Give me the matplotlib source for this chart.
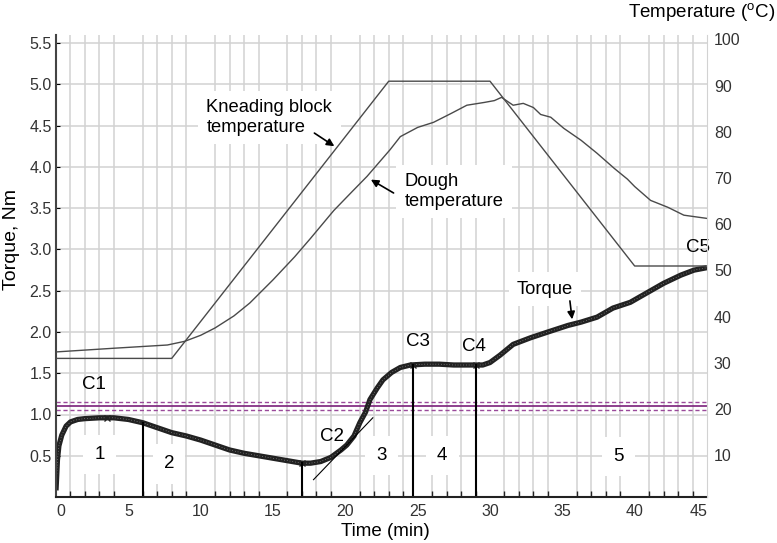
import numpy as np
import matplotlib.pyplot as plt
from matplotlib.transforms import ScaledTranslation

plt.rcParams['font.family'] = ['Liberation Sans', 'DejaVu Sans']
plt.rcParams['mathtext.fontset'] = 'custom'
plt.rcParams['mathtext.rm'] = 'Liberation Sans'

# Torque curve (Nm) vs time (min)
t_torque = [0.0, 0.1, 0.2, 0.4, 0.7, 1.0, 1.5, 2.0, 3.0, 4.0, 5.0, 6.0, 7.0, 8.0,
            9.0, 10.0, 11.0, 12.0, 13.0, 14.0, 15.0, 16.0, 17.0, 17.6, 18.3, 19.0,
            19.7, 20.1, 20.6, 21.0, 21.4, 21.7, 22.2, 22.6, 23.2, 23.8, 24.5, 25.5,
            26.5, 27.5, 28.5, 29.0, 29.5, 30.0, 30.7, 31.6, 32.8, 34.0, 35.4, 36.3,
            37.4, 38.5, 39.7, 40.9, 42.0, 43.2, 44.1, 45.0]
torque = [0.08, 0.45, 0.62, 0.75, 0.86, 0.91, 0.94, 0.95, 0.96, 0.96, 0.94, 0.90, 0.84, 0.78,
          0.74, 0.69, 0.63, 0.57, 0.53, 0.50, 0.47, 0.44, 0.41, 0.41, 0.43, 0.48,
          0.57, 0.63, 0.74, 0.90, 1.03, 1.18, 1.32, 1.42, 1.51, 1.57, 1.60, 1.61,
          1.61, 1.60, 1.60, 1.60, 1.60, 1.63, 1.72, 1.85, 1.93, 2.00, 2.08, 2.12,
          2.18, 2.29, 2.36, 2.48, 2.59, 2.69, 2.75, 2.78]

# Kneading block temperature (set program)
t_block = [0, 8, 23, 30, 40, 45]
block_temp = [30, 30, 90, 90, 50, 50]

# Dough temperature
t_dough = [0.0, 4.0, 7.7, 8.9, 10.0, 11.0, 12.3, 13.4, 15.0, 16.5, 17.6, 19.2, 20.5,
           21.5, 23.1, 23.8, 25.0, 26.1, 27.3, 28.4, 29.6, 30.3, 30.8, 31.6, 32.3,
           33.0, 33.5, 34.2, 35.1, 36.3, 37.4, 38.6, 39.5, 40.0, 41.1, 42.3, 43.4, 45.0]
dough_temp = [31.4, 32.2, 32.9, 33.7, 35.0, 36.6, 39.2, 42.0, 47.0, 52.0, 56.0, 62.0, 66.2,
              69.4, 75.2, 78.0, 80.0, 81.1, 83.0, 84.8, 85.4, 85.8, 86.5, 84.8, 85.2,
              84.3, 82.8, 82.2, 79.8, 77.2, 74.4, 71.1, 68.8, 67.2, 64.2, 62.7, 61.0, 60.3]

# phase boundaries (min) and C-point labels
event_times = [6.0, 17.0, 24.7, 29.0]
c_labels = ['C1', 'C2', 'C3', 'C4', 'C5']
c_pos = [(2.6, 1.36), (19.1, 0.73), (25.0, 1.88), (28.9, 1.82), (44.4, 3.02)]
phase_labels = ['1', '2', '3', '4', '5']
phase_pos = [(3.0, 0.51), (7.8, 0.40), (22.5, 0.50), (26.7, 0.50), (38.9, 0.49)]
c_marks_t = [3.5, 17.0, 24.7, 29.0]

# C2 tangent
tangent_t = [17.8, 21.9]
tangent_torque = [0.21, 0.96]

# C1 target band
c1_target = 1.10
c1_tol = 0.05

fig = plt.figure(figsize=(7.77, 5.43), dpi=100)
ax = fig.add_axes([56/777, 1 - 497/543, 651/777, 462/543])
ax2 = ax.twinx()

ax.set_xlim(0, 45)
ax.set_ylim(0, 5.6)
ax2.set_ylim(0, 100)

grid_col = '#d2d2d2'
ax.set_xticks(np.arange(0, 46, 5))
ax.set_xticks(np.arange(0, 46, 1), minor=True)
ax.set_yticks(np.arange(0.5, 5.51, 0.5))
ax.set_yticklabels([f'{v:.1f}' for v in np.arange(0.5, 5.51, 0.5)])
ax.grid(True, which='minor', axis='x', color=grid_col, lw=1.1)
ax.grid(True, which='major', axis='y', color=grid_col, lw=1.1)
ax.set_axisbelow(True)
ax.tick_params(axis='x', which='major', length=0, labelsize=11.5, labelcolor='#333333', pad=5)
ax.tick_params(axis='x', which='minor', direction='in', length=4, width=1, color='#222222')
ax.tick_params(axis='y', direction='in', length=3, labelsize=11.5, labelcolor='#333333', pad=3)
xl = ax.get_xticklabels()
xl[0].set_ha('left')
xl[-1].set_ha('right')

ax2.set_yticks(np.arange(10, 101, 10))
ax2.tick_params(axis='y', length=0, labelsize=11.5, labelcolor='#333333', pad=5)
offset = ScaledTranslation(0, -4.5 / 100, fig.dpi_scale_trans)
for lab in ax2.get_yticklabels():
    lab.set_transform(lab.get_transform() + offset)

for a in (ax, ax2):
    a.spines['top'].set_visible(False)
ax.spines['left'].set_color('#444444')
ax.spines['left'].set_linewidth(1.5)
ax.spines['bottom'].set_color('#222222')
ax.spines['bottom'].set_linewidth(1.5)
ax.spines['right'].set_visible(False)
ax2.spines['left'].set_visible(False)
ax2.spines['bottom'].set_visible(False)
ax2.spines['right'].set_color(grid_col)

# C1 target lines
ax.axhline(c1_target, color='#7a1f7a', lw=1.2)
ax.axhline(c1_target + c1_tol, color='#9a4a9a', lw=1.0, ls=(0, (3, 2)))
ax.axhline(c1_target - c1_tol, color='#9a4a9a', lw=1.0, ls=(0, (3, 2)))

# temperatures
ax2.plot(t_block, block_temp, color='#4a4a4a', lw=1.0)
ax2.plot(t_dough, dough_temp, color='#4a4a4a', lw=1.0)

# torque
ax.plot(t_torque, torque, color='#222222', lw=3.8, solid_capstyle='butt')
ax.plot(t_torque, torque, color='white', lw=0.5, ls=(0, (1, 3)), alpha=0.6)
ax.plot(c_marks_t, np.interp(c_marks_t, t_torque, torque), 'x', color='#222222', ms=5, mew=1)

for et in event_times:
    ax.plot([et, et], [0, np.interp(et, t_torque, torque)], color='black', lw=1.5)
ax.plot(tangent_t, tangent_torque, color='black', lw=0.8)

for lab, (x, y) in zip(c_labels, c_pos):
    ax.text(x, y, lab, fontsize=13.5, ha='center', va='center')
for lab, (x, y) in zip(phase_labels, phase_pos):
    ax.text(x, y, lab, fontsize=13.5, ha='center', va='center',
            bbox=dict(facecolor='white', edgecolor='none', pad=8))

# annotations
ax.text(10.4, 4.6, 'Kneading block\ntemperature', fontsize=13.2, ha='left', va='center',
        linespacing=1.2, bbox=dict(facecolor='white', edgecolor='none', pad=6))
ax2.annotate('', xy=(19.4, 75.6), xytext=(17.7, 79.1),
             arrowprops=dict(arrowstyle='-|>', color='black', lw=1.2, mutation_scale=11))
ax.text(24.1, 3.70, 'Dough\ntemperature', fontsize=13.2, ha='left', va='center',
        linespacing=1.2, bbox=dict(facecolor='white', edgecolor='none', pad=6))
ax2.annotate('', xy=(21.6, 69.0), xytext=(23.5, 65.5),
             arrowprops=dict(arrowstyle='-|>', color='black', lw=1.2, mutation_scale=11))
ax.text(33.8, 2.52, 'Torque', fontsize=13.2, ha='center', va='center',
        bbox=dict(facecolor='white', edgecolor='none', pad=6))
ax.annotate('', xy=(35.7, 2.12), xytext=(35.5, 2.41),
            arrowprops=dict(arrowstyle='-|>', color='black', lw=1.2, mutation_scale=11))

fig.text(12/777, 1 - 240/543, 'Torque, Nm', rotation=90, fontsize=14, ha='center', va='center')
fig.text(385/777, 1 - 531/543, 'Time (min)', fontsize=13.5, ha='center', va='center')
fig.text(775/777, 1 - 13/543, r'Temperature ($^{\mathrm{o}}$C)', fontsize=13.5, ha='right', va='center')

fig.savefig('out.png', dpi=100)
